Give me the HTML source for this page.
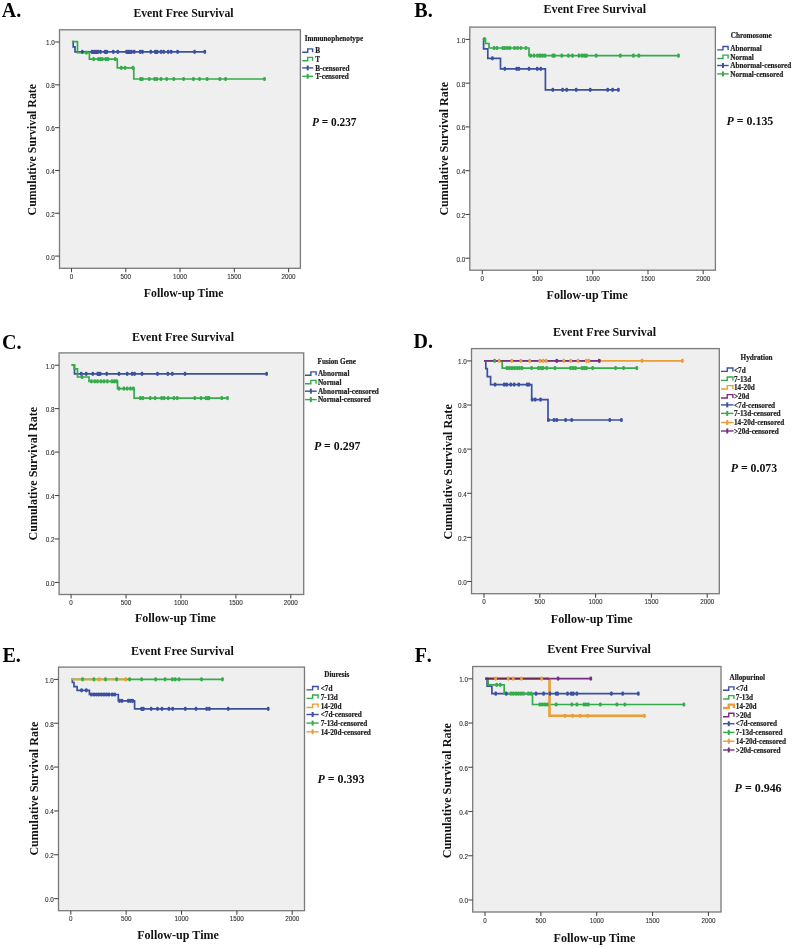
<!DOCTYPE html>
<html><head><meta charset="utf-8"><style>
html,body{margin:0;padding:0;background:#fff;}
svg{display:block;filter:blur(0.35px);}
.tk{stroke:#444;stroke-width:1.05;}
.tl{font-family:'Liberation Sans', sans-serif;font-size:7px;fill:#333;stroke:#333;stroke-width:0.12px;}
.lab{font-family:'Liberation Serif', serif;font-weight:bold;font-size:20px;fill:#000;}
.ttl{font-family:'Liberation Serif', serif;font-weight:bold;font-size:12px;fill:#111;}
.lg{font-family:'Liberation Serif', serif;font-weight:bold;font-size:7.2px;fill:#222;stroke:#222;stroke-width:0.2px;}
.pv{font-family:'Liberation Serif', serif;font-weight:bold;font-size:12px;fill:#111;}
</style></head><body>
<svg width="793" height="948" viewBox="0 0 793 948">
<rect width="793" height="948" fill="#fff"/>
<rect x="59.5" y="29.8" width="240.9" height="238.5" fill="#efefef" stroke="#7a7a7a" stroke-width="1.3"/>
<line x1="55.1" y1="256.1" x2="59.5" y2="256.1" class="tk"/>
<text x="46.1" y="259.5" class="tl" textLength="8.8" lengthAdjust="spacingAndGlyphs">0.0</text>
<line x1="55.1" y1="213.28" x2="59.5" y2="213.28" class="tk"/>
<text x="46.1" y="216.68" class="tl" textLength="8.8" lengthAdjust="spacingAndGlyphs">0.2</text>
<line x1="55.1" y1="170.46" x2="59.5" y2="170.46" class="tk"/>
<text x="46.1" y="173.86" class="tl" textLength="8.8" lengthAdjust="spacingAndGlyphs">0.4</text>
<line x1="55.1" y1="127.64" x2="59.5" y2="127.64" class="tk"/>
<text x="46.1" y="131.04" class="tl" textLength="8.8" lengthAdjust="spacingAndGlyphs">0.6</text>
<line x1="55.1" y1="84.82" x2="59.5" y2="84.82" class="tk"/>
<text x="46.1" y="88.22" class="tl" textLength="8.8" lengthAdjust="spacingAndGlyphs">0.8</text>
<line x1="55.1" y1="42" x2="59.5" y2="42" class="tk"/>
<text x="46.1" y="45.4" class="tl" textLength="8.8" lengthAdjust="spacingAndGlyphs">1.0</text>
<line x1="71.5" y1="268.3" x2="71.5" y2="272.3" class="tk"/>
<text x="69.75" y="278.9" class="tl" textLength="3.5" lengthAdjust="spacingAndGlyphs">0</text>
<line x1="125.78" y1="268.3" x2="125.78" y2="272.3" class="tk"/>
<text x="120.53" y="278.9" class="tl" textLength="10.5" lengthAdjust="spacingAndGlyphs">500</text>
<line x1="180.05" y1="268.3" x2="180.05" y2="272.3" class="tk"/>
<text x="173.05" y="278.9" class="tl" textLength="14.0" lengthAdjust="spacingAndGlyphs">1000</text>
<line x1="234.33" y1="268.3" x2="234.33" y2="272.3" class="tk"/>
<text x="227.33" y="278.9" class="tl" textLength="14.0" lengthAdjust="spacingAndGlyphs">1500</text>
<line x1="288.6" y1="268.3" x2="288.6" y2="272.3" class="tk"/>
<text x="281.6" y="278.9" class="tl" textLength="14.0" lengthAdjust="spacingAndGlyphs">2000</text>
<path d="M72.4,41.6H73.2V46.8H75V51.9H204.8" fill="none" stroke="#3b51a0" stroke-width="1.7"/>
<path d="M71.9,41.6H77.5V52.6H89.4V59.1H117.3V67.8H133.8V79H264.5" fill="none" stroke="#35ac4b" stroke-width="1.7"/>
<path d="M82.3,51.2V52.6M92,51.2V52.6M94,51.2V52.6M96,51.2V52.6M98,51.2V52.6M100.5,51.2V52.6M105,51.2V52.6M106.8,51.2V52.6M113.3,51.2V52.6M117.8,51.2V52.6M126.5,51.2V52.6M128,51.2V52.6M129.5,51.2V52.6M131.5,51.2V52.6M134.2,51.2V52.6M140.2,51.2V52.6M142.5,51.2V52.6M150.8,51.2V52.6M155.3,51.2V52.6M157.2,51.2V52.6M161,51.2V52.6M163.7,51.2V52.6M168.2,51.2V52.6M171.2,51.2V52.6M177.6,51.2V52.6M194.6,51.2V52.6M204.8,51.2V52.6" fill="none" stroke="#3b51a0" stroke-width="2.8" stroke-linecap="round"/>
<path d="M86.4,51.9V53.3M93.6,58.4V59.8M98.5,58.4V59.8M100.3,58.4V59.8M102.3,58.4V59.8M105.7,58.4V59.8M108,58.4V59.8M115.2,58.4V59.8M121.3,67.1V68.5M125.1,67.1V68.5M133,67.1V68.5M140.5,78.3V79.7M142.3,78.3V79.7M149.3,78.3V79.7M154.6,78.3V79.7M156.8,78.3V79.7M161,78.3V79.7M166.7,78.3V79.7M173.8,78.3V79.7M183.6,78.3V79.7M193.4,78.3V79.7M199.5,78.3V79.7M207.1,78.3V79.7M219.9,78.3V79.7M225.6,78.3V79.7M264.5,78.3V79.7" fill="none" stroke="#35ac4b" stroke-width="2.8" stroke-linecap="round"/>
<text x="1.8" y="16.6" class="lab">A.</text>
<text x="133.4" y="17.2" class="ttl" textLength="100.2" lengthAdjust="spacingAndGlyphs">Event Free Survival</text>
<text transform="translate(35.6,215.4) rotate(-90)" x="0" y="0" class="ttl" textLength="131.4" lengthAdjust="spacingAndGlyphs">Cumulative Survival Rate</text>
<text x="143.8" y="296.6" class="ttl" textLength="79.8" lengthAdjust="spacingAndGlyphs">Follow-up Time</text>
<text x="304.8" y="40.8" class="lg">Immunophenotype</text>
<path d="M302.2,52.3H307.7V48.9H312.6V52.3" fill="none" stroke="#3b51a0" stroke-width="1.4"/>
<text x="315.2" y="53.4" class="lg">B</text>
<path d="M302.2,60.8H307.7V57.4H312.6V60.8" fill="none" stroke="#35ac4b" stroke-width="1.4"/>
<text x="315.2" y="61.9" class="lg">T</text>
<path d="M302.2,67.9H313.2" fill="none" stroke="#3b51a0" stroke-width="1.4"/>
<path d="M307.7,65.4V70.4" fill="none" stroke="#3b51a0" stroke-width="2"/>
<text x="315.2" y="70.6" class="lg">B-censored</text>
<path d="M302.2,76.3H313.2" fill="none" stroke="#35ac4b" stroke-width="1.4"/>
<path d="M307.7,73.8V78.8" fill="none" stroke="#35ac4b" stroke-width="2"/>
<text x="315.2" y="79" class="lg">T-censored</text>
<text x="311.9" y="126.2" class="pv" textLength="44.6" lengthAdjust="spacingAndGlyphs"><tspan font-style="italic">P</tspan> = 0.237</text>
<rect x="469.8" y="27.1" width="245.6" height="243.1" fill="#efefef" stroke="#7a7a7a" stroke-width="1.3"/>
<line x1="465.4" y1="258.2" x2="469.8" y2="258.2" class="tk"/>
<text x="456.4" y="261.6" class="tl" textLength="8.8" lengthAdjust="spacingAndGlyphs">0.0</text>
<line x1="465.4" y1="214.44" x2="469.8" y2="214.44" class="tk"/>
<text x="456.4" y="217.84" class="tl" textLength="8.8" lengthAdjust="spacingAndGlyphs">0.2</text>
<line x1="465.4" y1="170.68" x2="469.8" y2="170.68" class="tk"/>
<text x="456.4" y="174.08" class="tl" textLength="8.8" lengthAdjust="spacingAndGlyphs">0.4</text>
<line x1="465.4" y1="126.92" x2="469.8" y2="126.92" class="tk"/>
<text x="456.4" y="130.32" class="tl" textLength="8.8" lengthAdjust="spacingAndGlyphs">0.6</text>
<line x1="465.4" y1="83.16" x2="469.8" y2="83.16" class="tk"/>
<text x="456.4" y="86.56" class="tl" textLength="8.8" lengthAdjust="spacingAndGlyphs">0.8</text>
<line x1="465.4" y1="39.4" x2="469.8" y2="39.4" class="tk"/>
<text x="456.4" y="42.8" class="tl" textLength="8.8" lengthAdjust="spacingAndGlyphs">1.0</text>
<line x1="482.3" y1="270.2" x2="482.3" y2="274.2" class="tk"/>
<text x="480.55" y="280.8" class="tl" textLength="3.5" lengthAdjust="spacingAndGlyphs">0</text>
<line x1="537.52" y1="270.2" x2="537.52" y2="274.2" class="tk"/>
<text x="532.27" y="280.8" class="tl" textLength="10.5" lengthAdjust="spacingAndGlyphs">500</text>
<line x1="592.75" y1="270.2" x2="592.75" y2="274.2" class="tk"/>
<text x="585.75" y="280.8" class="tl" textLength="14.0" lengthAdjust="spacingAndGlyphs">1000</text>
<line x1="647.98" y1="270.2" x2="647.98" y2="274.2" class="tk"/>
<text x="640.98" y="280.8" class="tl" textLength="14.0" lengthAdjust="spacingAndGlyphs">1500</text>
<line x1="703.2" y1="270.2" x2="703.2" y2="274.2" class="tk"/>
<text x="696.2" y="280.8" class="tl" textLength="14.0" lengthAdjust="spacingAndGlyphs">2000</text>
<path d="M483.6,39.2V48.8H487.8V58.3H500.5V68.9H545.4V89.8H618.4" fill="none" stroke="#3b51a0" stroke-width="1.7"/>
<path d="M482.6,39.2H485.5V43.5H489V48H529V55.7H678.5" fill="none" stroke="#35ac4b" stroke-width="1.7"/>
<path d="M492.4,57.6V59M504.8,68.2V69.6M516.7,68.2V69.6M518.9,68.2V69.6M529,68.2V69.6M537.2,68.2V69.6M540.8,68.2V69.6M552.8,89.1V90.5M562.6,89.1V90.5M566.7,89.1V90.5M576.2,89.1V90.5M590.2,89.1V90.5M607.7,89.1V90.5M612.6,89.1V90.5M618.4,89.1V90.5" fill="none" stroke="#3b51a0" stroke-width="2.8" stroke-linecap="round"/>
<path d="M484.5,38.5V39.9M494,47.3V48.7M497,47.3V48.7M502.8,47.3V48.7M505,47.3V48.7M507.5,47.3V48.7M510,47.3V48.7M514.5,47.3V48.7M517.5,47.3V48.7M520.8,47.3V48.7M526,47.3V48.7M530.7,55V56.4M534,55V56.4M537.5,55V56.4M540,55V56.4M542.5,55V56.4M545,55V56.4M552.8,55V56.4M554.4,55V56.4M561.8,55V56.4M568.4,55V56.4M572.5,55V56.4M579,55V56.4M582,55V56.4M584.5,55V56.4M586.5,55V56.4M596.2,55V56.4M620.3,55V56.4M633.4,55V56.4M638.9,55V56.4M678.5,55V56.4" fill="none" stroke="#35ac4b" stroke-width="2.8" stroke-linecap="round"/>
<text x="414.3" y="16.6" class="lab">B.</text>
<text x="543.4" y="13.4" class="ttl" textLength="102.6" lengthAdjust="spacingAndGlyphs">Event Free Survival</text>
<text transform="translate(448,215.6) rotate(-90)" x="0" y="0" class="ttl" textLength="133.7" lengthAdjust="spacingAndGlyphs">Cumulative Survival Rate</text>
<text x="546.6" y="298.8" class="ttl" textLength="81.2" lengthAdjust="spacingAndGlyphs">Follow-up Time</text>
<text x="730.7" y="37.8" class="lg">Chromosome</text>
<path d="M717.2,49.9H722.95V46.5H728.1V49.9" fill="none" stroke="#3b51a0" stroke-width="1.4"/>
<text x="730.3" y="51" class="lg">Abnormal</text>
<path d="M717.2,58.5H722.95V55.1H728.1V58.5" fill="none" stroke="#35ac4b" stroke-width="1.4"/>
<text x="730.3" y="59.6" class="lg">Normal</text>
<path d="M717.2,65.5H728.7" fill="none" stroke="#3b51a0" stroke-width="1.4"/>
<path d="M722.95,63V68" fill="none" stroke="#3b51a0" stroke-width="2"/>
<text x="730.3" y="68.2" class="lg">Abnormal-censored</text>
<path d="M717.2,73.9H728.7" fill="none" stroke="#35ac4b" stroke-width="1.4"/>
<path d="M722.95,71.4V76.4" fill="none" stroke="#35ac4b" stroke-width="2"/>
<text x="730.3" y="76.6" class="lg">Normal-censored</text>
<text x="726.5" y="124.9" class="pv" textLength="46.8" lengthAdjust="spacingAndGlyphs"><tspan font-style="italic">P</tspan> = 0.135</text>
<rect x="59.1" y="352.9" width="244.6" height="241.6" fill="#efefef" stroke="#7a7a7a" stroke-width="1.3"/>
<line x1="54.7" y1="582.4" x2="59.1" y2="582.4" class="tk"/>
<text x="45.7" y="585.8" class="tl" textLength="8.8" lengthAdjust="spacingAndGlyphs">0.0</text>
<line x1="54.7" y1="538.96" x2="59.1" y2="538.96" class="tk"/>
<text x="45.7" y="542.36" class="tl" textLength="8.8" lengthAdjust="spacingAndGlyphs">0.2</text>
<line x1="54.7" y1="495.52" x2="59.1" y2="495.52" class="tk"/>
<text x="45.7" y="498.92" class="tl" textLength="8.8" lengthAdjust="spacingAndGlyphs">0.4</text>
<line x1="54.7" y1="452.08" x2="59.1" y2="452.08" class="tk"/>
<text x="45.7" y="455.48" class="tl" textLength="8.8" lengthAdjust="spacingAndGlyphs">0.6</text>
<line x1="54.7" y1="408.64" x2="59.1" y2="408.64" class="tk"/>
<text x="45.7" y="412.04" class="tl" textLength="8.8" lengthAdjust="spacingAndGlyphs">0.8</text>
<line x1="54.7" y1="365.2" x2="59.1" y2="365.2" class="tk"/>
<text x="45.7" y="368.6" class="tl" textLength="8.8" lengthAdjust="spacingAndGlyphs">1.0</text>
<line x1="71.1" y1="594.5" x2="71.1" y2="598.5" class="tk"/>
<text x="69.35" y="605.1" class="tl" textLength="3.5" lengthAdjust="spacingAndGlyphs">0</text>
<line x1="126.03" y1="594.5" x2="126.03" y2="598.5" class="tk"/>
<text x="120.78" y="605.1" class="tl" textLength="10.5" lengthAdjust="spacingAndGlyphs">500</text>
<line x1="180.95" y1="594.5" x2="180.95" y2="598.5" class="tk"/>
<text x="173.95" y="605.1" class="tl" textLength="14.0" lengthAdjust="spacingAndGlyphs">1000</text>
<line x1="235.88" y1="594.5" x2="235.88" y2="598.5" class="tk"/>
<text x="228.88" y="605.1" class="tl" textLength="14.0" lengthAdjust="spacingAndGlyphs">1500</text>
<line x1="290.8" y1="594.5" x2="290.8" y2="598.5" class="tk"/>
<text x="283.8" y="605.1" class="tl" textLength="14.0" lengthAdjust="spacingAndGlyphs">2000</text>
<path d="M71.6,364.9H74.5V373.9H266.6" fill="none" stroke="#3b51a0" stroke-width="1.7"/>
<path d="M71.6,364.9H74.2V368.9H77.5V377H89V381.4H117.5V388.6H134.1V398.1H227.5" fill="none" stroke="#35ac4b" stroke-width="1.7"/>
<path d="M81.3,373.2V374.6M86.2,373.2V374.6M92.8,373.2V374.6M97.7,373.2V374.6M99,373.2V374.6M100.2,373.2V374.6M106.7,373.2V374.6M119,373.2V374.6M127.2,373.2V374.6M132.1,373.2V374.6M134.6,373.2V374.6M142,373.2V374.6M157.5,373.2V374.6M167.9,373.2V374.6M172.3,373.2V374.6M185,373.2V374.6M266.6,373.2V374.6" fill="none" stroke="#3b51a0" stroke-width="2.8" stroke-linecap="round"/>
<path d="M82,376.3V377.7M91.4,380.7V382.1M94.7,380.7V382.1M97.5,380.7V382.1M100.9,380.7V382.1M104,380.7V382.1M107.4,380.7V382.1M111.9,380.7V382.1M114.3,380.7V382.1M116.6,380.7V382.1M119,387.9V389.3M123.9,387.9V389.3M127.2,387.9V389.3M130.5,387.9V389.3M133.4,387.9V389.3M140.3,397.4V398.8M142.8,397.4V398.8M150.2,397.4V398.8M155.1,397.4V398.8M161.6,397.4V398.8M164.1,397.4V398.8M168.2,397.4V398.8M173.9,397.4V398.8M177.2,397.4V398.8M194.8,397.4V398.8M201,397.4V398.8M205.9,397.4V398.8M207.9,397.4V398.8M209,397.4V398.8M221.8,397.4V398.8M227.5,397.4V398.8" fill="none" stroke="#35ac4b" stroke-width="2.8" stroke-linecap="round"/>
<text x="2" y="348.6" class="lab">C.</text>
<text x="132.1" y="341.4" class="ttl" textLength="102" lengthAdjust="spacingAndGlyphs">Event Free Survival</text>
<text transform="translate(36.7,540.4) rotate(-90)" x="0" y="0" class="ttl" textLength="133.4" lengthAdjust="spacingAndGlyphs">Cumulative Survival Rate</text>
<text x="135" y="622.4" class="ttl" textLength="80.9" lengthAdjust="spacingAndGlyphs">Follow-up Time</text>
<text x="317.5" y="363.6" class="lg">Fusion Gene</text>
<path d="M305,375.3H310.85V371.9H316.1V375.3" fill="none" stroke="#3b51a0" stroke-width="1.4"/>
<text x="317.9" y="376.4" class="lg">Abnormal</text>
<path d="M305,383.8H310.85V380.4H316.1V383.8" fill="none" stroke="#35ac4b" stroke-width="1.4"/>
<text x="317.9" y="384.9" class="lg">Normal</text>
<path d="M305,391.2H316.7" fill="none" stroke="#3b51a0" stroke-width="1.4"/>
<path d="M310.85,388.7V393.7" fill="none" stroke="#3b51a0" stroke-width="2"/>
<text x="317.9" y="393.9" class="lg">Abnormal-censored</text>
<path d="M305,399.6H316.7" fill="none" stroke="#35ac4b" stroke-width="1.4"/>
<path d="M310.85,397.1V402.1" fill="none" stroke="#35ac4b" stroke-width="2"/>
<text x="317.9" y="402.3" class="lg">Normal-censored</text>
<text x="313.9" y="450.2" class="pv" textLength="46.6" lengthAdjust="spacingAndGlyphs"><tspan font-style="italic">P</tspan> = 0.297</text>
<rect x="471.5" y="348.6" width="247.8" height="245.1" fill="#efefef" stroke="#7a7a7a" stroke-width="1.3"/>
<line x1="467.1" y1="581.5" x2="471.5" y2="581.5" class="tk"/>
<text x="458.1" y="584.9" class="tl" textLength="8.8" lengthAdjust="spacingAndGlyphs">0.0</text>
<line x1="467.1" y1="537.38" x2="471.5" y2="537.38" class="tk"/>
<text x="458.1" y="540.78" class="tl" textLength="8.8" lengthAdjust="spacingAndGlyphs">0.2</text>
<line x1="467.1" y1="493.26" x2="471.5" y2="493.26" class="tk"/>
<text x="458.1" y="496.66" class="tl" textLength="8.8" lengthAdjust="spacingAndGlyphs">0.4</text>
<line x1="467.1" y1="449.14" x2="471.5" y2="449.14" class="tk"/>
<text x="458.1" y="452.54" class="tl" textLength="8.8" lengthAdjust="spacingAndGlyphs">0.6</text>
<line x1="467.1" y1="405.02" x2="471.5" y2="405.02" class="tk"/>
<text x="458.1" y="408.42" class="tl" textLength="8.8" lengthAdjust="spacingAndGlyphs">0.8</text>
<line x1="467.1" y1="360.9" x2="471.5" y2="360.9" class="tk"/>
<text x="458.1" y="364.3" class="tl" textLength="8.8" lengthAdjust="spacingAndGlyphs">1.0</text>
<line x1="484" y1="593.7" x2="484" y2="597.7" class="tk"/>
<text x="482.25" y="604.3" class="tl" textLength="3.5" lengthAdjust="spacingAndGlyphs">0</text>
<line x1="539.8" y1="593.7" x2="539.8" y2="597.7" class="tk"/>
<text x="534.55" y="604.3" class="tl" textLength="10.5" lengthAdjust="spacingAndGlyphs">500</text>
<line x1="595.6" y1="593.7" x2="595.6" y2="597.7" class="tk"/>
<text x="588.6" y="604.3" class="tl" textLength="14.0" lengthAdjust="spacingAndGlyphs">1000</text>
<line x1="651.4" y1="593.7" x2="651.4" y2="597.7" class="tk"/>
<text x="644.4" y="604.3" class="tl" textLength="14.0" lengthAdjust="spacingAndGlyphs">1500</text>
<line x1="707.2" y1="593.7" x2="707.2" y2="597.7" class="tk"/>
<text x="700.2" y="604.3" class="tl" textLength="14.0" lengthAdjust="spacingAndGlyphs">2000</text>
<path d="M484,360.8H485.8V368.6H487.3V376.7H490.6V384.6H531.7V399.6H548V420H621.4" fill="none" stroke="#3b51a0" stroke-width="1.7"/>
<path d="M484,360.8H502.2V368.1H636.8" fill="none" stroke="#35ac4b" stroke-width="1.7"/>
<path d="M484,360.8H682.4" fill="none" stroke="#eb9e36" stroke-width="1.7"/>
<path d="M484,360.8H599.3" fill="none" stroke="#74307e" stroke-width="1.7"/>
<path d="M495.1,383.9V385.3M504.2,383.9V385.3M506.7,383.9V385.3M510.8,383.9V385.3M514.2,383.9V385.3M518.8,383.9V385.3M527.2,383.9V385.3M529,383.9V385.3M532.2,398.9V400.3M535.2,398.9V400.3M540.6,398.9V400.3M548.4,419.3V420.7M554,419.3V420.7M556.8,419.3V420.7M565.6,419.3V420.7M571.7,419.3V420.7M609.8,419.3V420.7M621.4,419.3V420.7" fill="none" stroke="#3b51a0" stroke-width="2.8" stroke-linecap="round"/>
<path d="M494.6,360.1V361.5M507,367.4V368.8M509.5,367.4V368.8M512,367.4V368.8M514.5,367.4V368.8M517,367.4V368.8M519.5,367.4V368.8M522,367.4V368.8M531.6,367.4V368.8M538.5,367.4V368.8M541,367.4V368.8M543,367.4V368.8M546.7,367.4V368.8M554.9,367.4V368.8M570.5,367.4V368.8M573,367.4V368.8M575.5,367.4V368.8M582,367.4V368.8M584.2,367.4V368.8M586.4,367.4V368.8M592.7,367.4V368.8M615.6,367.4V368.8M623.6,367.4V368.8M636.8,367.4V368.8" fill="none" stroke="#35ac4b" stroke-width="2.8" stroke-linecap="round"/>
<path d="M499.2,360.1V361.5M511.8,360.1V361.5M520.9,360.1V361.5M529.7,360.1V361.5M539.8,360.1V361.5M543,360.1V361.5M546.1,360.1V361.5M563.8,360.1V361.5M570.7,360.1V361.5M578,360.1V361.5M586.4,360.1V361.5M588.9,360.1V361.5M642,360.1V361.5M682.4,360.1V361.5" fill="none" stroke="#eb9e36" stroke-width="2.8" stroke-linecap="round"/>
<path d="M556.8,360.1V361.5M599.3,360.1V361.5" fill="none" stroke="#74307e" stroke-width="2.8" stroke-linecap="round"/>
<text x="413.6" y="348.4" class="lab">D.</text>
<text x="553" y="335.8" class="ttl" textLength="103.2" lengthAdjust="spacingAndGlyphs">Event Free Survival</text>
<text transform="translate(452.4,539.6) rotate(-90)" x="0" y="0" class="ttl" textLength="135.4" lengthAdjust="spacingAndGlyphs">Cumulative Survival Rate</text>
<text x="550.8" y="622.8" class="ttl" textLength="81.8" lengthAdjust="spacingAndGlyphs">Follow-up Time</text>
<text x="740.6" y="360" class="lg">Hydration</text>
<path d="M721,371.4H727.25V368H732.9V371.4" fill="none" stroke="#3b51a0" stroke-width="1.4"/>
<text x="734" y="372.5" class="lg">&lt;7d</text>
<path d="M721,380.4H727.25V377H732.9V380.4" fill="none" stroke="#35ac4b" stroke-width="1.4"/>
<text x="734" y="381.5" class="lg">7-13d</text>
<path d="M721,389H727.25V385.6H732.9V389" fill="none" stroke="#eb9e36" stroke-width="1.4"/>
<text x="734" y="390.1" class="lg">14-20d</text>
<path d="M721,398H727.25V394.6H732.9V398" fill="none" stroke="#74307e" stroke-width="1.4"/>
<text x="734" y="399.1" class="lg">&gt;20d</text>
<path d="M721,404.9H733.5" fill="none" stroke="#3b51a0" stroke-width="1.4"/>
<path d="M727.25,402.4V407.4" fill="none" stroke="#3b51a0" stroke-width="2"/>
<text x="734" y="407.6" class="lg">&lt;7d-censored</text>
<path d="M721,413.4H733.5" fill="none" stroke="#35ac4b" stroke-width="1.4"/>
<path d="M727.25,410.9V415.9" fill="none" stroke="#35ac4b" stroke-width="2"/>
<text x="734" y="416.1" class="lg">7-13d-censored</text>
<path d="M721,422.5H733.5" fill="none" stroke="#eb9e36" stroke-width="1.4"/>
<path d="M727.25,420V425" fill="none" stroke="#eb9e36" stroke-width="2"/>
<text x="734" y="425.2" class="lg">14-20d-censored</text>
<path d="M721,431H733.5" fill="none" stroke="#74307e" stroke-width="1.4"/>
<path d="M727.25,428.5V433.5" fill="none" stroke="#74307e" stroke-width="2"/>
<text x="734" y="433.7" class="lg">&gt;20d-censored</text>
<text x="730.7" y="471.8" class="pv" textLength="46.5" lengthAdjust="spacingAndGlyphs"><tspan font-style="italic">P</tspan> = 0.073</text>
<rect x="58.5" y="667.1" width="246" height="243.6" fill="#efefef" stroke="#7a7a7a" stroke-width="1.3"/>
<line x1="54.1" y1="898.6" x2="58.5" y2="898.6" class="tk"/>
<text x="45.1" y="902" class="tl" textLength="8.8" lengthAdjust="spacingAndGlyphs">0.0</text>
<line x1="54.1" y1="854.76" x2="58.5" y2="854.76" class="tk"/>
<text x="45.1" y="858.16" class="tl" textLength="8.8" lengthAdjust="spacingAndGlyphs">0.2</text>
<line x1="54.1" y1="810.92" x2="58.5" y2="810.92" class="tk"/>
<text x="45.1" y="814.32" class="tl" textLength="8.8" lengthAdjust="spacingAndGlyphs">0.4</text>
<line x1="54.1" y1="767.08" x2="58.5" y2="767.08" class="tk"/>
<text x="45.1" y="770.48" class="tl" textLength="8.8" lengthAdjust="spacingAndGlyphs">0.6</text>
<line x1="54.1" y1="723.24" x2="58.5" y2="723.24" class="tk"/>
<text x="45.1" y="726.64" class="tl" textLength="8.8" lengthAdjust="spacingAndGlyphs">0.8</text>
<line x1="54.1" y1="679.4" x2="58.5" y2="679.4" class="tk"/>
<text x="45.1" y="682.8" class="tl" textLength="8.8" lengthAdjust="spacingAndGlyphs">1.0</text>
<line x1="70.8" y1="910.7" x2="70.8" y2="914.7" class="tk"/>
<text x="69.05" y="921.3" class="tl" textLength="3.5" lengthAdjust="spacingAndGlyphs">0</text>
<line x1="126.15" y1="910.7" x2="126.15" y2="914.7" class="tk"/>
<text x="120.9" y="921.3" class="tl" textLength="10.5" lengthAdjust="spacingAndGlyphs">500</text>
<line x1="181.5" y1="910.7" x2="181.5" y2="914.7" class="tk"/>
<text x="174.5" y="921.3" class="tl" textLength="14.0" lengthAdjust="spacingAndGlyphs">1000</text>
<line x1="236.85" y1="910.7" x2="236.85" y2="914.7" class="tk"/>
<text x="229.85" y="921.3" class="tl" textLength="14.0" lengthAdjust="spacingAndGlyphs">1500</text>
<line x1="292.2" y1="910.7" x2="292.2" y2="914.7" class="tk"/>
<text x="285.2" y="921.3" class="tl" textLength="14.0" lengthAdjust="spacingAndGlyphs">2000</text>
<path d="M71.2,679.3H72.4V682.5H74V686.6H77.1V690.3H89.4V694.5H118.3V700.8H134.6V708.9H268.2" fill="none" stroke="#3b51a0" stroke-width="1.7"/>
<path d="M71.2,679.3H222.5" fill="none" stroke="#35ac4b" stroke-width="1.7"/>
<path d="M71.2,679.3H126" fill="none" stroke="#eb9e36" stroke-width="1.7"/>
<path d="M81.6,689.6V691M86.3,689.6V691M91.3,693.8V695.2M94,693.8V695.2M96.5,693.8V695.2M99,693.8V695.2M101.5,693.8V695.2M104,693.8V695.2M106.5,693.8V695.2M109,693.8V695.2M112.1,693.8V695.2M114.7,693.8V695.2M119.5,700.1V701.5M122,700.1V701.5M128.3,700.1V701.5M130.5,700.1V701.5M132.7,700.1V701.5M141.6,708.2V709.6M143.4,708.2V709.6M151.2,708.2V709.6M157.5,708.2V709.6M162,708.2V709.6M168.9,708.2V709.6M172.7,708.2V709.6M185.3,708.2V709.6M196,708.2V709.6M206.7,708.2V709.6M209.3,708.2V709.6M228.2,708.2V709.6M268.2,708.2V709.6" fill="none" stroke="#3b51a0" stroke-width="2.8" stroke-linecap="round"/>
<path d="M82.6,678.6V680M93.9,678.6V680M105.5,678.6V680M116.6,678.6V680M129.6,678.6V680M141.6,678.6V680M155.7,678.6V680M165.1,678.6V680M172.4,678.6V680M175.2,678.6V680M179,678.6V680M201.5,678.6V680M222.5,678.6V680" fill="none" stroke="#35ac4b" stroke-width="2.8" stroke-linecap="round"/>
<path d="M99.2,678.6V680M125.8,678.6V680" fill="none" stroke="#eb9e36" stroke-width="2.8" stroke-linecap="round"/>
<text x="2.5" y="661.7" class="lab">E.</text>
<text x="131" y="655.1" class="ttl" textLength="102.8" lengthAdjust="spacingAndGlyphs">Event Free Survival</text>
<text transform="translate(38.2,855.6) rotate(-90)" x="0" y="0" class="ttl" textLength="133.9" lengthAdjust="spacingAndGlyphs">Cumulative Survival Rate</text>
<text x="137.2" y="938.5" class="ttl" textLength="81.8" lengthAdjust="spacingAndGlyphs">Follow-up Time</text>
<text x="324.3" y="677.3" class="lg">Diuresis</text>
<path d="M306.5,689.9H312.6V686.5H318.1V689.9" fill="none" stroke="#3b51a0" stroke-width="1.4"/>
<text x="320.7" y="691" class="lg">&lt;7d</text>
<path d="M306.5,698.4H312.6V695H318.1V698.4" fill="none" stroke="#35ac4b" stroke-width="1.4"/>
<text x="320.7" y="699.5" class="lg">7-13d</text>
<path d="M306.5,707.5H312.6V704.1H318.1V707.5" fill="none" stroke="#eb9e36" stroke-width="1.4"/>
<text x="320.7" y="708.6" class="lg">14-20d</text>
<path d="M306.5,714.5H318.7" fill="none" stroke="#3b51a0" stroke-width="1.4"/>
<path d="M312.6,712V717" fill="none" stroke="#3b51a0" stroke-width="2"/>
<text x="320.7" y="717.2" class="lg">&lt;7d-censored</text>
<path d="M306.5,723.1H318.7" fill="none" stroke="#35ac4b" stroke-width="1.4"/>
<path d="M312.6,720.6V725.6" fill="none" stroke="#35ac4b" stroke-width="2"/>
<text x="320.7" y="725.8" class="lg">7-13d-censored</text>
<path d="M306.5,731.8H318.7" fill="none" stroke="#eb9e36" stroke-width="1.4"/>
<path d="M312.6,729.3V734.3" fill="none" stroke="#eb9e36" stroke-width="2"/>
<text x="320.7" y="734.5" class="lg">14-20d-censored</text>
<text x="317.5" y="783.4" class="pv" textLength="46.9" lengthAdjust="spacingAndGlyphs"><tspan font-style="italic">P</tspan> = 0.393</text>
<rect x="472.7" y="666.5" width="248.3" height="245.5" fill="#efefef" stroke="#7a7a7a" stroke-width="1.3"/>
<line x1="468.3" y1="900" x2="472.7" y2="900" class="tk"/>
<text x="459.3" y="903.4" class="tl" textLength="8.8" lengthAdjust="spacingAndGlyphs">0.0</text>
<line x1="468.3" y1="855.76" x2="472.7" y2="855.76" class="tk"/>
<text x="459.3" y="859.16" class="tl" textLength="8.8" lengthAdjust="spacingAndGlyphs">0.2</text>
<line x1="468.3" y1="811.52" x2="472.7" y2="811.52" class="tk"/>
<text x="459.3" y="814.92" class="tl" textLength="8.8" lengthAdjust="spacingAndGlyphs">0.4</text>
<line x1="468.3" y1="767.28" x2="472.7" y2="767.28" class="tk"/>
<text x="459.3" y="770.68" class="tl" textLength="8.8" lengthAdjust="spacingAndGlyphs">0.6</text>
<line x1="468.3" y1="723.04" x2="472.7" y2="723.04" class="tk"/>
<text x="459.3" y="726.44" class="tl" textLength="8.8" lengthAdjust="spacingAndGlyphs">0.8</text>
<line x1="468.3" y1="678.8" x2="472.7" y2="678.8" class="tk"/>
<text x="459.3" y="682.2" class="tl" textLength="8.8" lengthAdjust="spacingAndGlyphs">1.0</text>
<line x1="485" y1="912" x2="485" y2="916" class="tk"/>
<text x="483.25" y="922.6" class="tl" textLength="3.5" lengthAdjust="spacingAndGlyphs">0</text>
<line x1="540.85" y1="912" x2="540.85" y2="916" class="tk"/>
<text x="535.6" y="922.6" class="tl" textLength="10.5" lengthAdjust="spacingAndGlyphs">500</text>
<line x1="596.7" y1="912" x2="596.7" y2="916" class="tk"/>
<text x="589.7" y="922.6" class="tl" textLength="14.0" lengthAdjust="spacingAndGlyphs">1000</text>
<line x1="652.55" y1="912" x2="652.55" y2="916" class="tk"/>
<text x="645.55" y="922.6" class="tl" textLength="14.0" lengthAdjust="spacingAndGlyphs">1500</text>
<line x1="708.4" y1="912" x2="708.4" y2="916" class="tk"/>
<text x="701.4" y="922.6" class="tl" textLength="14.0" lengthAdjust="spacingAndGlyphs">2000</text>
<path d="M485.3,678.6H487.1V686.1H491.9V693.7H638.3" fill="none" stroke="#3b51a0" stroke-width="1.7"/>
<path d="M485.3,678.6H488.1V684.8H504.2V693.7H532.5V704.5H683.9" fill="none" stroke="#35ac4b" stroke-width="1.7"/>
<path d="M549.5,678.6V715.8H644.4" fill="none" stroke="#eb9e36" stroke-width="2.6"/>
<path d="M485.3,678.6H549.5" fill="none" stroke="#6c2a52" stroke-width="2.2"/>
<path d="M549.5,678.6H590.8" fill="none" stroke="#74307e" stroke-width="1.7"/>
<path d="M495.7,693V694.4M506.3,693V694.4M536,693V694.4M543.6,693V694.4M549.9,693V694.4M556.2,693V694.4M557.6,693V694.4M567.5,693V694.4M571.3,693V694.4M573.3,693V694.4M576.9,693V694.4M611.4,693V694.4M622.7,693V694.4M638.3,693V694.4" fill="none" stroke="#3b51a0" stroke-width="2.8" stroke-linecap="round"/>
<path d="M496.6,684.1V685.5M500.2,684.1V685.5M510.8,693V694.4M513.3,693V694.4M516,693V694.4M518.5,693V694.4M521,693V694.4M523.5,693V694.4M528.4,693V694.4M531,693V694.4M539.8,703.8V705.2M542.3,703.8V705.2M544.8,703.8V705.2M547.3,703.8V705.2M556.2,703.8V705.2M571.9,703.8V705.2M576.9,703.8V705.2M583.9,703.8V705.2M586,703.8V705.2M588.3,703.8V705.2M600.3,703.8V705.2M616.9,703.8V705.2M624.9,703.8V705.2M683.9,703.8V705.2" fill="none" stroke="#35ac4b" stroke-width="2.8" stroke-linecap="round"/>
<path d="M495.6,677.9V679.3M508.2,677.9V679.3M513.2,677.9V679.3M521.5,677.9V679.3M541.7,677.9V679.3M565,715.1V716.5M572.5,715.1V716.5M580.1,715.1V716.5M587.7,715.1V716.5M644.4,715.1V716.5" fill="none" stroke="#eb9e36" stroke-width="2.8" stroke-linecap="round"/>
<path d="M558.1,677.9V679.3M590.8,677.9V679.3" fill="none" stroke="#74307e" stroke-width="2.8" stroke-linecap="round"/>
<text x="414.8" y="661.7" class="lab">F<tspan dx="1.5">.</tspan></text>
<text x="547.2" y="652.8" class="ttl" textLength="103.8" lengthAdjust="spacingAndGlyphs">Event Free Survival</text>
<text transform="translate(450.5,858.3) rotate(-90)" x="0" y="0" class="ttl" textLength="135.3" lengthAdjust="spacingAndGlyphs">Cumulative Survival Rate</text>
<text x="553.5" y="941.8" class="ttl" textLength="81.9" lengthAdjust="spacingAndGlyphs">Follow-up Time</text>
<text x="729.5" y="679.5" class="lg">Allopurinol</text>
<path d="M723,690.3H728.75V686.9H733.9V690.3" fill="none" stroke="#3b51a0" stroke-width="1.4"/>
<text x="735.8" y="691.4" class="lg">&lt;7d</text>
<path d="M723,699H728.75V695.6H733.9V699" fill="none" stroke="#35ac4b" stroke-width="1.4"/>
<text x="735.8" y="700.1" class="lg">7-13d</text>
<path d="M723,708H728.75V704.6H733.9V708" fill="none" stroke="#eb9e36" stroke-width="2.4"/>
<text x="735.8" y="709.1" class="lg">14-20d</text>
<path d="M723,716.7H728.75V713.3H733.9V716.7" fill="none" stroke="#74307e" stroke-width="1.4"/>
<text x="735.8" y="717.8" class="lg">&gt;20d</text>
<path d="M723,723.7H734.5" fill="none" stroke="#3b51a0" stroke-width="1.4"/>
<path d="M728.75,721.2V726.2" fill="none" stroke="#3b51a0" stroke-width="2"/>
<text x="735.8" y="726.4" class="lg">&lt;7d-censored</text>
<path d="M723,732.4H734.5" fill="none" stroke="#35ac4b" stroke-width="1.4"/>
<path d="M728.75,729.9V734.9" fill="none" stroke="#35ac4b" stroke-width="2"/>
<text x="735.8" y="735.1" class="lg">7-13d-censored</text>
<path d="M723,741.2H734.5" fill="none" stroke="#eb9e36" stroke-width="1.4"/>
<path d="M728.75,738.7V743.7" fill="none" stroke="#eb9e36" stroke-width="2"/>
<text x="735.8" y="743.9" class="lg">14-20d-censored</text>
<path d="M723,750H734.5" fill="none" stroke="#74307e" stroke-width="1.4"/>
<path d="M728.75,747.5V752.5" fill="none" stroke="#74307e" stroke-width="2"/>
<text x="735.8" y="752.7" class="lg">&gt;20d-censored</text>
<text x="734.6" y="792.2" class="pv" textLength="47" lengthAdjust="spacingAndGlyphs"><tspan font-style="italic">P</tspan> = 0.946</text>
</svg>
</body></html>
